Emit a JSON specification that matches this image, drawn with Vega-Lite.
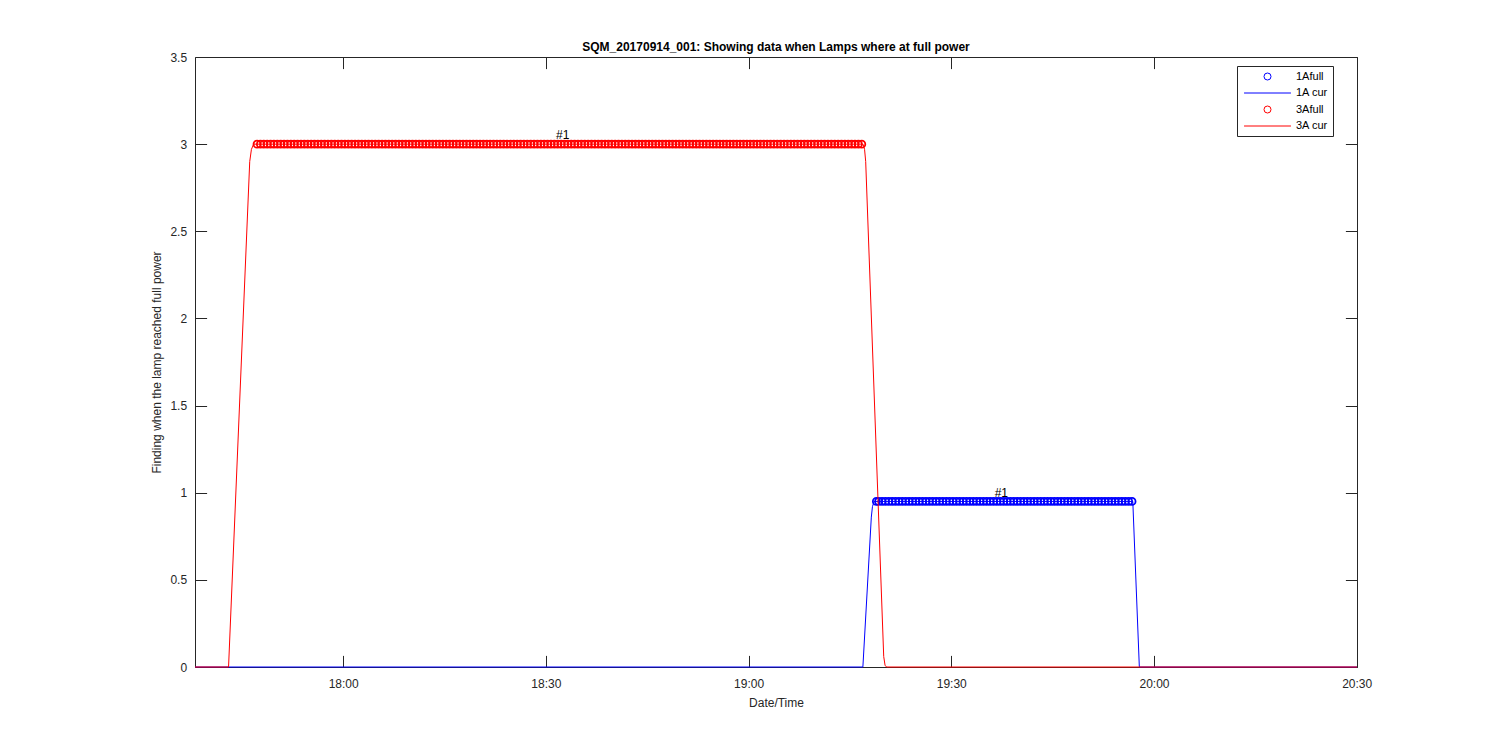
{
"$schema": "https://vega.github.io/schema/vega-lite/v6.json",
"width": 1162,
"height": 610,
"autosize": {"type": "none"},
"padding": {"left": 195, "top": 57, "right": 143, "bottom": 83},
"background": "white",
"config": {"view": {"stroke": null}, "font": "Liberation Sans"},
"title": {"text": "SQM_20170914_001: Showing data when Lamps where at full power", "fontSize": 12, "fontWeight": "bold", "font": "Liberation Sans", "color": "#000000", "frame": "group", "anchor": "middle", "offset": -3},
"datasets": {
"cur1": [
{"t":"2017-09-14T17:38:04","v":0,"s":"1A cur"},
{"t":"2017-09-14T19:16:55","v":0,"s":"1A cur"},
{"t":"2017-09-14T19:18:10","v":0.86,"s":"1A cur"},
{"t":"2017-09-14T19:18:20","v":0.92,"s":"1A cur"},
{"t":"2017-09-14T19:18:35","v":0.95,"s":"1A cur"},
{"t":"2017-09-14T19:56:52","v":0.95,"s":"1A cur"},
{"t":"2017-09-14T19:57:50","v":0,"s":"1A cur"},
{"t":"2017-09-14T20:30:03","v":0,"s":"1A cur"}
],
"cur3": [
{"t":"2017-09-14T17:38:04","v":0,"s":"3A cur"},
{"t":"2017-09-14T17:43:02","v":0,"s":"3A cur"},
{"t":"2017-09-14T17:46:10","v":2.9,"s":"3A cur"},
{"t":"2017-09-14T17:46:25","v":2.97,"s":"3A cur"},
{"t":"2017-09-14T17:46:45","v":3,"s":"3A cur"},
{"t":"2017-09-14T19:16:56","v":3,"s":"3A cur"},
{"t":"2017-09-14T19:17:10","v":2.97,"s":"3A cur"},
{"t":"2017-09-14T19:17:20","v":2.9,"s":"3A cur"},
{"t":"2017-09-14T19:20:00","v":0.06,"s":"3A cur"},
{"t":"2017-09-14T19:20:12","v":0.01,"s":"3A cur"},
{"t":"2017-09-14T19:20:25","v":0,"s":"3A cur"},
{"t":"2017-09-14T20:30:03","v":0,"s":"3A cur"}
],
"labels": [
{"t":"2017-09-14T18:31:30","v":3.05,"label":"#1"},
{"t":"2017-09-14T19:36:25","v":1.0,"label":"#1"}
],
"full1": [
{"t":"2017-09-14T19:18:55","v":0.95,"s":"1Afull"},
{"t":"2017-09-14T19:19:15","v":0.95,"s":"1Afull"},{"t":"2017-09-14T19:19:45","v":0.95,"s":"1Afull"},
{"t":"2017-09-14T19:20:15","v":0.95,"s":"1Afull"},{"t":"2017-09-14T19:20:45","v":0.95,"s":"1Afull"},
{"t":"2017-09-14T19:21:15","v":0.95,"s":"1Afull"},{"t":"2017-09-14T19:21:45","v":0.95,"s":"1Afull"},
{"t":"2017-09-14T19:22:15","v":0.95,"s":"1Afull"},{"t":"2017-09-14T19:22:45","v":0.95,"s":"1Afull"},
{"t":"2017-09-14T19:23:15","v":0.95,"s":"1Afull"},{"t":"2017-09-14T19:23:45","v":0.95,"s":"1Afull"},
{"t":"2017-09-14T19:24:15","v":0.95,"s":"1Afull"},{"t":"2017-09-14T19:24:45","v":0.95,"s":"1Afull"},
{"t":"2017-09-14T19:25:15","v":0.95,"s":"1Afull"},{"t":"2017-09-14T19:25:45","v":0.95,"s":"1Afull"},
{"t":"2017-09-14T19:26:15","v":0.95,"s":"1Afull"},{"t":"2017-09-14T19:26:45","v":0.95,"s":"1Afull"},
{"t":"2017-09-14T19:27:15","v":0.95,"s":"1Afull"},{"t":"2017-09-14T19:27:45","v":0.95,"s":"1Afull"},
{"t":"2017-09-14T19:28:15","v":0.95,"s":"1Afull"},{"t":"2017-09-14T19:28:45","v":0.95,"s":"1Afull"},
{"t":"2017-09-14T19:29:15","v":0.95,"s":"1Afull"},{"t":"2017-09-14T19:29:45","v":0.95,"s":"1Afull"},
{"t":"2017-09-14T19:30:15","v":0.95,"s":"1Afull"},{"t":"2017-09-14T19:30:45","v":0.95,"s":"1Afull"},
{"t":"2017-09-14T19:31:15","v":0.95,"s":"1Afull"},{"t":"2017-09-14T19:31:45","v":0.95,"s":"1Afull"},
{"t":"2017-09-14T19:32:15","v":0.95,"s":"1Afull"},{"t":"2017-09-14T19:32:45","v":0.95,"s":"1Afull"},
{"t":"2017-09-14T19:33:15","v":0.95,"s":"1Afull"},{"t":"2017-09-14T19:33:45","v":0.95,"s":"1Afull"},
{"t":"2017-09-14T19:34:15","v":0.95,"s":"1Afull"},{"t":"2017-09-14T19:34:45","v":0.95,"s":"1Afull"},
{"t":"2017-09-14T19:35:15","v":0.95,"s":"1Afull"},{"t":"2017-09-14T19:35:45","v":0.95,"s":"1Afull"},
{"t":"2017-09-14T19:36:15","v":0.95,"s":"1Afull"},{"t":"2017-09-14T19:36:45","v":0.95,"s":"1Afull"},
{"t":"2017-09-14T19:37:15","v":0.95,"s":"1Afull"},{"t":"2017-09-14T19:37:45","v":0.95,"s":"1Afull"},
{"t":"2017-09-14T19:38:15","v":0.95,"s":"1Afull"},{"t":"2017-09-14T19:38:45","v":0.95,"s":"1Afull"},
{"t":"2017-09-14T19:39:15","v":0.95,"s":"1Afull"},{"t":"2017-09-14T19:39:45","v":0.95,"s":"1Afull"},
{"t":"2017-09-14T19:40:15","v":0.95,"s":"1Afull"},{"t":"2017-09-14T19:40:45","v":0.95,"s":"1Afull"},
{"t":"2017-09-14T19:41:15","v":0.95,"s":"1Afull"},{"t":"2017-09-14T19:41:45","v":0.95,"s":"1Afull"},
{"t":"2017-09-14T19:42:15","v":0.95,"s":"1Afull"},{"t":"2017-09-14T19:42:45","v":0.95,"s":"1Afull"},
{"t":"2017-09-14T19:43:15","v":0.95,"s":"1Afull"},{"t":"2017-09-14T19:43:45","v":0.95,"s":"1Afull"},
{"t":"2017-09-14T19:44:15","v":0.95,"s":"1Afull"},{"t":"2017-09-14T19:44:45","v":0.95,"s":"1Afull"},
{"t":"2017-09-14T19:45:15","v":0.95,"s":"1Afull"},{"t":"2017-09-14T19:45:45","v":0.95,"s":"1Afull"},
{"t":"2017-09-14T19:46:15","v":0.95,"s":"1Afull"},{"t":"2017-09-14T19:46:45","v":0.95,"s":"1Afull"},
{"t":"2017-09-14T19:47:15","v":0.95,"s":"1Afull"},{"t":"2017-09-14T19:47:45","v":0.95,"s":"1Afull"},
{"t":"2017-09-14T19:48:15","v":0.95,"s":"1Afull"},{"t":"2017-09-14T19:48:45","v":0.95,"s":"1Afull"},
{"t":"2017-09-14T19:49:15","v":0.95,"s":"1Afull"},{"t":"2017-09-14T19:49:45","v":0.95,"s":"1Afull"},
{"t":"2017-09-14T19:50:15","v":0.95,"s":"1Afull"},{"t":"2017-09-14T19:50:45","v":0.95,"s":"1Afull"},
{"t":"2017-09-14T19:51:15","v":0.95,"s":"1Afull"},{"t":"2017-09-14T19:51:45","v":0.95,"s":"1Afull"},
{"t":"2017-09-14T19:52:15","v":0.95,"s":"1Afull"},{"t":"2017-09-14T19:52:45","v":0.95,"s":"1Afull"},
{"t":"2017-09-14T19:53:15","v":0.95,"s":"1Afull"},{"t":"2017-09-14T19:53:45","v":0.95,"s":"1Afull"},
{"t":"2017-09-14T19:54:15","v":0.95,"s":"1Afull"},{"t":"2017-09-14T19:54:45","v":0.95,"s":"1Afull"},
{"t":"2017-09-14T19:55:15","v":0.95,"s":"1Afull"},{"t":"2017-09-14T19:55:45","v":0.95,"s":"1Afull"},
{"t":"2017-09-14T19:56:15","v":0.95,"s":"1Afull"},{"t":"2017-09-14T19:56:45","v":0.95,"s":"1Afull"}
],
"full3": [
{"t":"2017-09-14T17:47:15","v":3,"s":"3Afull"},{"t":"2017-09-14T17:47:45","v":3,"s":"3Afull"},
{"t":"2017-09-14T17:48:15","v":3,"s":"3Afull"},{"t":"2017-09-14T17:48:45","v":3,"s":"3Afull"},
{"t":"2017-09-14T17:49:15","v":3,"s":"3Afull"},{"t":"2017-09-14T17:49:45","v":3,"s":"3Afull"},
{"t":"2017-09-14T17:50:15","v":3,"s":"3Afull"},{"t":"2017-09-14T17:50:45","v":3,"s":"3Afull"},
{"t":"2017-09-14T17:51:15","v":3,"s":"3Afull"},{"t":"2017-09-14T17:51:45","v":3,"s":"3Afull"},
{"t":"2017-09-14T17:52:15","v":3,"s":"3Afull"},{"t":"2017-09-14T17:52:45","v":3,"s":"3Afull"},
{"t":"2017-09-14T17:53:15","v":3,"s":"3Afull"},{"t":"2017-09-14T17:53:45","v":3,"s":"3Afull"},
{"t":"2017-09-14T17:54:15","v":3,"s":"3Afull"},{"t":"2017-09-14T17:54:45","v":3,"s":"3Afull"},
{"t":"2017-09-14T17:55:15","v":3,"s":"3Afull"},{"t":"2017-09-14T17:55:45","v":3,"s":"3Afull"},
{"t":"2017-09-14T17:56:15","v":3,"s":"3Afull"},{"t":"2017-09-14T17:56:45","v":3,"s":"3Afull"},
{"t":"2017-09-14T17:57:15","v":3,"s":"3Afull"},{"t":"2017-09-14T17:57:45","v":3,"s":"3Afull"},
{"t":"2017-09-14T17:58:15","v":3,"s":"3Afull"},{"t":"2017-09-14T17:58:45","v":3,"s":"3Afull"},
{"t":"2017-09-14T17:59:15","v":3,"s":"3Afull"},{"t":"2017-09-14T17:59:45","v":3,"s":"3Afull"},
{"t":"2017-09-14T18:00:15","v":3,"s":"3Afull"},{"t":"2017-09-14T18:00:45","v":3,"s":"3Afull"},
{"t":"2017-09-14T18:01:15","v":3,"s":"3Afull"},{"t":"2017-09-14T18:01:45","v":3,"s":"3Afull"},
{"t":"2017-09-14T18:02:15","v":3,"s":"3Afull"},{"t":"2017-09-14T18:02:45","v":3,"s":"3Afull"},
{"t":"2017-09-14T18:03:15","v":3,"s":"3Afull"},{"t":"2017-09-14T18:03:45","v":3,"s":"3Afull"},
{"t":"2017-09-14T18:04:15","v":3,"s":"3Afull"},{"t":"2017-09-14T18:04:45","v":3,"s":"3Afull"},
{"t":"2017-09-14T18:05:15","v":3,"s":"3Afull"},{"t":"2017-09-14T18:05:45","v":3,"s":"3Afull"},
{"t":"2017-09-14T18:06:15","v":3,"s":"3Afull"},{"t":"2017-09-14T18:06:45","v":3,"s":"3Afull"},
{"t":"2017-09-14T18:07:15","v":3,"s":"3Afull"},{"t":"2017-09-14T18:07:45","v":3,"s":"3Afull"},
{"t":"2017-09-14T18:08:15","v":3,"s":"3Afull"},{"t":"2017-09-14T18:08:45","v":3,"s":"3Afull"},
{"t":"2017-09-14T18:09:15","v":3,"s":"3Afull"},{"t":"2017-09-14T18:09:45","v":3,"s":"3Afull"},
{"t":"2017-09-14T18:10:15","v":3,"s":"3Afull"},{"t":"2017-09-14T18:10:45","v":3,"s":"3Afull"},
{"t":"2017-09-14T18:11:15","v":3,"s":"3Afull"},{"t":"2017-09-14T18:11:45","v":3,"s":"3Afull"},
{"t":"2017-09-14T18:12:15","v":3,"s":"3Afull"},{"t":"2017-09-14T18:12:45","v":3,"s":"3Afull"},
{"t":"2017-09-14T18:13:15","v":3,"s":"3Afull"},{"t":"2017-09-14T18:13:45","v":3,"s":"3Afull"},
{"t":"2017-09-14T18:14:15","v":3,"s":"3Afull"},{"t":"2017-09-14T18:14:45","v":3,"s":"3Afull"},
{"t":"2017-09-14T18:15:15","v":3,"s":"3Afull"},{"t":"2017-09-14T18:15:45","v":3,"s":"3Afull"},
{"t":"2017-09-14T18:16:15","v":3,"s":"3Afull"},{"t":"2017-09-14T18:16:45","v":3,"s":"3Afull"},
{"t":"2017-09-14T18:17:15","v":3,"s":"3Afull"},{"t":"2017-09-14T18:17:45","v":3,"s":"3Afull"},
{"t":"2017-09-14T18:18:15","v":3,"s":"3Afull"},{"t":"2017-09-14T18:18:45","v":3,"s":"3Afull"},
{"t":"2017-09-14T18:19:15","v":3,"s":"3Afull"},{"t":"2017-09-14T18:19:45","v":3,"s":"3Afull"},
{"t":"2017-09-14T18:20:15","v":3,"s":"3Afull"},{"t":"2017-09-14T18:20:45","v":3,"s":"3Afull"},
{"t":"2017-09-14T18:21:15","v":3,"s":"3Afull"},{"t":"2017-09-14T18:21:45","v":3,"s":"3Afull"},
{"t":"2017-09-14T18:22:15","v":3,"s":"3Afull"},{"t":"2017-09-14T18:22:45","v":3,"s":"3Afull"},
{"t":"2017-09-14T18:23:15","v":3,"s":"3Afull"},{"t":"2017-09-14T18:23:45","v":3,"s":"3Afull"},
{"t":"2017-09-14T18:24:15","v":3,"s":"3Afull"},{"t":"2017-09-14T18:24:45","v":3,"s":"3Afull"},
{"t":"2017-09-14T18:25:15","v":3,"s":"3Afull"},{"t":"2017-09-14T18:25:45","v":3,"s":"3Afull"},
{"t":"2017-09-14T18:26:15","v":3,"s":"3Afull"},{"t":"2017-09-14T18:26:45","v":3,"s":"3Afull"},
{"t":"2017-09-14T18:27:15","v":3,"s":"3Afull"},{"t":"2017-09-14T18:27:45","v":3,"s":"3Afull"},
{"t":"2017-09-14T18:28:15","v":3,"s":"3Afull"},{"t":"2017-09-14T18:28:45","v":3,"s":"3Afull"},
{"t":"2017-09-14T18:29:15","v":3,"s":"3Afull"},{"t":"2017-09-14T18:29:45","v":3,"s":"3Afull"},
{"t":"2017-09-14T18:30:15","v":3,"s":"3Afull"},{"t":"2017-09-14T18:30:45","v":3,"s":"3Afull"},
{"t":"2017-09-14T18:31:15","v":3,"s":"3Afull"},{"t":"2017-09-14T18:31:45","v":3,"s":"3Afull"},
{"t":"2017-09-14T18:32:15","v":3,"s":"3Afull"},{"t":"2017-09-14T18:32:45","v":3,"s":"3Afull"},
{"t":"2017-09-14T18:33:15","v":3,"s":"3Afull"},{"t":"2017-09-14T18:33:45","v":3,"s":"3Afull"},
{"t":"2017-09-14T18:34:15","v":3,"s":"3Afull"},{"t":"2017-09-14T18:34:45","v":3,"s":"3Afull"},
{"t":"2017-09-14T18:35:15","v":3,"s":"3Afull"},{"t":"2017-09-14T18:35:45","v":3,"s":"3Afull"},
{"t":"2017-09-14T18:36:15","v":3,"s":"3Afull"},{"t":"2017-09-14T18:36:45","v":3,"s":"3Afull"},
{"t":"2017-09-14T18:37:15","v":3,"s":"3Afull"},{"t":"2017-09-14T18:37:45","v":3,"s":"3Afull"},
{"t":"2017-09-14T18:38:15","v":3,"s":"3Afull"},{"t":"2017-09-14T18:38:45","v":3,"s":"3Afull"},
{"t":"2017-09-14T18:39:15","v":3,"s":"3Afull"},{"t":"2017-09-14T18:39:45","v":3,"s":"3Afull"},
{"t":"2017-09-14T18:40:15","v":3,"s":"3Afull"},{"t":"2017-09-14T18:40:45","v":3,"s":"3Afull"},
{"t":"2017-09-14T18:41:15","v":3,"s":"3Afull"},{"t":"2017-09-14T18:41:45","v":3,"s":"3Afull"},
{"t":"2017-09-14T18:42:15","v":3,"s":"3Afull"},{"t":"2017-09-14T18:42:45","v":3,"s":"3Afull"},
{"t":"2017-09-14T18:43:15","v":3,"s":"3Afull"},{"t":"2017-09-14T18:43:45","v":3,"s":"3Afull"},
{"t":"2017-09-14T18:44:15","v":3,"s":"3Afull"},{"t":"2017-09-14T18:44:45","v":3,"s":"3Afull"},
{"t":"2017-09-14T18:45:15","v":3,"s":"3Afull"},{"t":"2017-09-14T18:45:45","v":3,"s":"3Afull"},
{"t":"2017-09-14T18:46:15","v":3,"s":"3Afull"},{"t":"2017-09-14T18:46:45","v":3,"s":"3Afull"},
{"t":"2017-09-14T18:47:15","v":3,"s":"3Afull"},{"t":"2017-09-14T18:47:45","v":3,"s":"3Afull"},
{"t":"2017-09-14T18:48:15","v":3,"s":"3Afull"},{"t":"2017-09-14T18:48:45","v":3,"s":"3Afull"},
{"t":"2017-09-14T18:49:15","v":3,"s":"3Afull"},{"t":"2017-09-14T18:49:45","v":3,"s":"3Afull"},
{"t":"2017-09-14T18:50:15","v":3,"s":"3Afull"},{"t":"2017-09-14T18:50:45","v":3,"s":"3Afull"},
{"t":"2017-09-14T18:51:15","v":3,"s":"3Afull"},{"t":"2017-09-14T18:51:45","v":3,"s":"3Afull"},
{"t":"2017-09-14T18:52:15","v":3,"s":"3Afull"},{"t":"2017-09-14T18:52:45","v":3,"s":"3Afull"},
{"t":"2017-09-14T18:53:15","v":3,"s":"3Afull"},{"t":"2017-09-14T18:53:45","v":3,"s":"3Afull"},
{"t":"2017-09-14T18:54:15","v":3,"s":"3Afull"},{"t":"2017-09-14T18:54:45","v":3,"s":"3Afull"},
{"t":"2017-09-14T18:55:15","v":3,"s":"3Afull"},{"t":"2017-09-14T18:55:45","v":3,"s":"3Afull"},
{"t":"2017-09-14T18:56:15","v":3,"s":"3Afull"},{"t":"2017-09-14T18:56:45","v":3,"s":"3Afull"},
{"t":"2017-09-14T18:57:15","v":3,"s":"3Afull"},{"t":"2017-09-14T18:57:45","v":3,"s":"3Afull"},
{"t":"2017-09-14T18:58:15","v":3,"s":"3Afull"},{"t":"2017-09-14T18:58:45","v":3,"s":"3Afull"},
{"t":"2017-09-14T18:59:15","v":3,"s":"3Afull"},{"t":"2017-09-14T18:59:45","v":3,"s":"3Afull"},
{"t":"2017-09-14T19:00:15","v":3,"s":"3Afull"},{"t":"2017-09-14T19:00:45","v":3,"s":"3Afull"},
{"t":"2017-09-14T19:01:15","v":3,"s":"3Afull"},{"t":"2017-09-14T19:01:45","v":3,"s":"3Afull"},
{"t":"2017-09-14T19:02:15","v":3,"s":"3Afull"},{"t":"2017-09-14T19:02:45","v":3,"s":"3Afull"},
{"t":"2017-09-14T19:03:15","v":3,"s":"3Afull"},{"t":"2017-09-14T19:03:45","v":3,"s":"3Afull"},
{"t":"2017-09-14T19:04:15","v":3,"s":"3Afull"},{"t":"2017-09-14T19:04:45","v":3,"s":"3Afull"},
{"t":"2017-09-14T19:05:15","v":3,"s":"3Afull"},{"t":"2017-09-14T19:05:45","v":3,"s":"3Afull"},
{"t":"2017-09-14T19:06:15","v":3,"s":"3Afull"},{"t":"2017-09-14T19:06:45","v":3,"s":"3Afull"},
{"t":"2017-09-14T19:07:15","v":3,"s":"3Afull"},{"t":"2017-09-14T19:07:45","v":3,"s":"3Afull"},
{"t":"2017-09-14T19:08:15","v":3,"s":"3Afull"},{"t":"2017-09-14T19:08:45","v":3,"s":"3Afull"},
{"t":"2017-09-14T19:09:15","v":3,"s":"3Afull"},{"t":"2017-09-14T19:09:45","v":3,"s":"3Afull"},
{"t":"2017-09-14T19:10:15","v":3,"s":"3Afull"},{"t":"2017-09-14T19:10:45","v":3,"s":"3Afull"},
{"t":"2017-09-14T19:11:15","v":3,"s":"3Afull"},{"t":"2017-09-14T19:11:45","v":3,"s":"3Afull"},
{"t":"2017-09-14T19:12:15","v":3,"s":"3Afull"},{"t":"2017-09-14T19:12:45","v":3,"s":"3Afull"},
{"t":"2017-09-14T19:13:15","v":3,"s":"3Afull"},{"t":"2017-09-14T19:13:45","v":3,"s":"3Afull"},
{"t":"2017-09-14T19:14:15","v":3,"s":"3Afull"},{"t":"2017-09-14T19:14:45","v":3,"s":"3Afull"},
{"t":"2017-09-14T19:15:15","v":3,"s":"3Afull"},{"t":"2017-09-14T19:15:45","v":3,"s":"3Afull"},
{"t":"2017-09-14T19:16:15","v":3,"s":"3Afull"},{"t":"2017-09-14T19:16:45","v":3,"s":"3Afull"}
]
},
"resolve": {"axis": {"x": "independent", "y": "independent"}},
"layer": [
{
"data": {"name": "full1"},
"mark": {"type": "point", "filled": false, "strokeWidth": 1.8, "size": 50, "opacity": 1},
"encoding": {
"x": {"field": "t", "type": "temporal",
 "scale": {"domain": [{"year": 2017, "month": 9, "date": 14, "hours": 17, "minutes": 38, "seconds": 4}, {"year": 2017, "month": 9, "date": 14, "hours": 20, "minutes": 30, "seconds": 3}], "nice": false},
 "axis": {"orient": "bottom", "title": "Date/Time", "format": "%H:%M", "grid": false,
  "values": [{"year": 2017, "month": 9, "date": 14, "hours": 18, "minutes": 0}, {"year": 2017, "month": 9, "date": 14, "hours": 18, "minutes": 30}, {"year": 2017, "month": 9, "date": 14, "hours": 19, "minutes": 0}, {"year": 2017, "month": 9, "date": 14, "hours": 19, "minutes": 30}, {"year": 2017, "month": 9, "date": 14, "hours": 20, "minutes": 0}, {"year": 2017, "month": 9, "date": 14, "hours": 20, "minutes": 30}],
  "tickSize": -11.6, "labelPadding": 23.5, "labelFontSize": 12, "labelFont": "Liberation Sans", "labelColor": "#262626", "labelFlush": false, "labelOverlap": false,
  "titleFontSize": 12, "titleFont": "Liberation Sans", "titleFontWeight": "normal", "titleColor": "#262626", "titlePadding": 7.5,
  "domain": true, "domainColor": "#262626", "tickColor": "#262626", "domainWidth": 1, "tickWidth": 1}},
"y": {"field": "v", "type": "quantitative",
 "scale": {"domain": [0, 3.5], "nice": false, "zero": false},
 "axis": {"orient": "left", "title": "Finding when the lamp reached full power", "values": [0, 0.5, 1, 1.5, 2, 2.5, 3, 3.5], "format": "~g", "grid": false,
  "tickSize": -11.6, "labelPadding": 20, "labelFontSize": 12, "labelFont": "Liberation Sans", "labelColor": "#262626", "labelFlush": false, "labelOverlap": false,
  "titleFontSize": 12, "titleFont": "Liberation Sans", "titleFontWeight": "normal", "titleColor": "#262626", "titlePadding": 6,
  "domain": true, "domainColor": "#262626", "tickColor": "#262626", "domainWidth": 1, "tickWidth": 1}},
"color": {"field": "s", "type": "nominal",
 "scale": {"domain": ["1Afull", "1A cur", "3Afull", "3A cur"], "range": ["#0000ff", "#0000ff", "#ff0000", "#ff0000"]},
 "legend": {"title": null, "orient": "none", "legendX": 1042, "legendY": 9, "padding": 5, "strokeColor": "#262626", "fillColor": "white", "labelFontSize": 11, "labelFont": "Liberation Sans", "labelColor": "#000000", "symbolOffset": 20, "labelOffset": 23, "rowPadding": 4.5, "symbolSize": 49, "symbolStrokeWidth": 1}},
"shape": {"field": "s", "type": "nominal",
 "scale": {"domain": ["1Afull", "1A cur", "3Afull", "3A cur"], "range": ["circle", "M-6.7,0H6.7", "circle", "M-6.7,0H6.7"]},
 "legend": {"title": null, "orient": "none", "legendX": 1042, "legendY": 9, "padding": 5, "strokeColor": "#262626", "fillColor": "white", "labelFontSize": 11, "labelFont": "Liberation Sans", "labelColor": "#000000", "symbolOffset": 20, "labelOffset": 23, "rowPadding": 4.5, "symbolSize": 49, "symbolStrokeWidth": 1}}
}
},
{
"data": {"name": "cur1"},
"mark": {"type": "line", "strokeWidth": 1},
"encoding": {
"x": {"field": "t", "type": "temporal", "axis": null},
"y": {"field": "v", "type": "quantitative", "axis": null},
"color": {"field": "s", "type": "nominal"}
}
},
{
"data": {"name": "full3"},
"mark": {"type": "point", "filled": false, "strokeWidth": 1.8, "size": 50, "opacity": 1},
"encoding": {
"x": {"field": "t", "type": "temporal", "axis": null},
"y": {"field": "v", "type": "quantitative", "axis": null},
"color": {"field": "s", "type": "nominal"},
"shape": {"field": "s", "type": "nominal"}
}
},
{
"data": {"name": "cur3"},
"mark": {"type": "line", "strokeWidth": 1},
"encoding": {
"x": {"field": "t", "type": "temporal", "axis": null},
"y": {"field": "v", "type": "quantitative", "axis": null},
"color": {"field": "s", "type": "nominal"}
}
},
{
"data": {"name": "labels"},
"mark": {"type": "text", "align": "left", "baseline": "middle", "fontSize": 12, "font": "Liberation Sans", "color": "#000000"},
"encoding": {
"x": {"field": "t", "type": "temporal", "axis": null},
"y": {"field": "v", "type": "quantitative", "axis": null},
"text": {"field": "label"}
}
},
{
"data": {"name": "labels"},
"mark": {"type": "point", "opacity": 0},
"encoding": {
"x": {"field": "t", "type": "temporal",
 "axis": {"orient": "top", "labels": false, "title": null, "grid": false,
  "values": [{"year": 2017, "month": 9, "date": 14, "hours": 18, "minutes": 0}, {"year": 2017, "month": 9, "date": 14, "hours": 18, "minutes": 30}, {"year": 2017, "month": 9, "date": 14, "hours": 19, "minutes": 0}, {"year": 2017, "month": 9, "date": 14, "hours": 19, "minutes": 30}, {"year": 2017, "month": 9, "date": 14, "hours": 20, "minutes": 0}, {"year": 2017, "month": 9, "date": 14, "hours": 20, "minutes": 30}],
  "tickSize": -11.6, "domainColor": "#262626", "tickColor": "#262626", "domainWidth": 1, "tickWidth": 1}},
"y": {"field": "v", "type": "quantitative",
 "axis": {"orient": "right", "labels": false, "title": null, "grid": false, "values": [0, 0.5, 1, 1.5, 2, 2.5, 3, 3.5],
  "tickSize": -11.6, "domainColor": "#262626", "tickColor": "#262626", "domainWidth": 1, "tickWidth": 1}}
}
}
]
}
